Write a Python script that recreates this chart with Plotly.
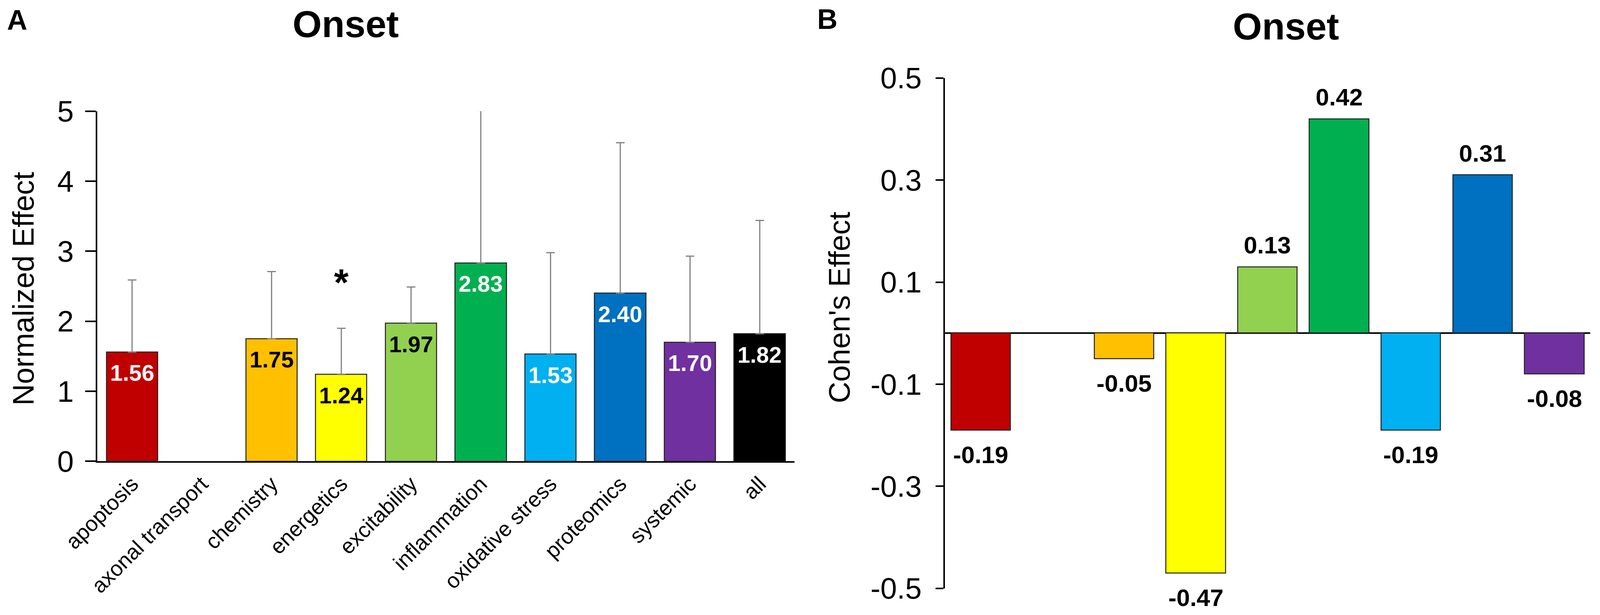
import plotly.graph_objects as go

# ---------------- data ----------------
categories_a = ["apoptosis", "axonal transport", "chemistry", "energetics", "excitability",
                "inflammation", "oxidative stress", "proteomics", "systemic", "all"]
normalized_effect = [1.56, None, 1.75, 1.24, 1.97, 2.83, 1.53, 2.40, 1.70, 1.82]
normalized_error = [1.03, None, 0.96, 0.66, 0.52, 2.18, 1.45, 2.15, 1.23, 1.62]
significant = ["energetics"]

categories_b = ["apoptosis", "axonal transport", "chemistry", "energetics", "excitability",
                "inflammation", "oxidative stress", "proteomics", "systemic"]
cohens_effect = [-0.19, None, -0.05, -0.47, 0.13, 0.42, -0.19, 0.31, -0.08]

yticks_a = [0, 1, 2, 3, 4, 5]
yticks_b = [-0.5, -0.3, -0.1, 0.1, 0.3, 0.5]

# ---------------- style ----------------
palette = {
    "apoptosis": "#C00000", "axonal transport": "#7F7F7F", "chemistry": "#FFC000",
    "energetics": "#FFFF00", "excitability": "#92D050", "inflammation": "#00B050",
    "oxidative stress": "#00B0F0", "proteomics": "#0070C0", "systemic": "#7030A0",
    "all": "#000000",
}
dark_labels = {"chemistry", "energetics", "excitability"}
FONT = "Arial, 'Liberation Sans', sans-serif"
W, H = 4317, 1575  # reference canvas, used to express measured positions as paper fractions

fig = go.Figure()

fig.add_trace(go.Bar(
    x=categories_a, y=normalized_effect,
    marker=dict(color=[palette[c] for c in categories_a], line=dict(color="#222222", width=2.5)),
    width=0.735,
    error_y=dict(type="data", array=normalized_error, arrayminus=[0] * len(categories_a),
                 symmetric=False, color="#808080", thickness=3, width=11),
    xaxis="x", yaxis="y", showlegend=False, hoverinfo="x+y",
))

fig.add_trace(go.Bar(
    x=categories_b, y=cohens_effect,
    marker=dict(color=[palette[c] for c in categories_b], line=dict(color="#222222", width=2.5)),
    width=0.83,
    xaxis="x2", yaxis="y2", showlegend=False, hoverinfo="x+y",
))

annotations = []
# value labels, panel A (inside, near the top of each bar)
for c, v in zip(categories_a, normalized_effect):
    if v is None:
        continue
    annotations.append(dict(
        x=c, y=v, xref="x", yref="y", text=f"{v:.2f}", showarrow=False,
        yanchor="middle", yshift=-53,
        font=dict(family=FONT, size=58, color="#000000" if c in dark_labels else "#FFFFFF", weight="bold"),
    ))
# significance marker
for c in significant:
    i = categories_a.index(c)
    annotations.append(dict(
        x=c, y=normalized_effect[i] + normalized_error[i], xref="x", yref="y", text="*",
        showarrow=False, yanchor="middle", yshift=118,
        font=dict(family=FONT, size=96, color="#000000", weight="bold"),
    ))
# value labels, panel B (outside the bar ends)
for c, v in zip(categories_b, cohens_effect):
    if v is None:
        continue
    annotations.append(dict(
        x=c, y=v, xref="x2", yref="y2", text=f"{v:.2f}", showarrow=False,
        yanchor="middle", yshift=56 if v > 0 else -63,
        font=dict(family=FONT, size=62, color="#000000", weight="bold"),
    ))

# titles, panel letters, axis titles
annotations += [
    dict(x=928 / W, y=1 - 54 / H, xref="paper", yref="paper", text="Onset", showarrow=False,
         xanchor="center", yanchor="middle", font=dict(family=FONT, size=96, color="#000", weight="bold")),
    dict(x=3476 / W, y=1 - 60 / H, xref="paper", yref="paper", text="Onset", showarrow=False,
         xanchor="center", yanchor="middle", font=dict(family=FONT, size=96, color="#000", weight="bold")),
    dict(x=38 / W, y=1 - 43 / H, xref="paper", yref="paper", text="A", showarrow=False,
         xanchor="center", yanchor="middle", font=dict(family=FONT, size=72, color="#000", weight="bold")),
    dict(x=2234 / W, y=1 - 41 / H, xref="paper", yref="paper", text="B", showarrow=False,
         xanchor="center", yanchor="middle", font=dict(family=FONT, size=72, color="#000", weight="bold")),
    dict(x=55 / W, y=1 - 740 / H, xref="paper", yref="paper", text="Normalized Effect", showarrow=False,
         textangle=-90, xanchor="center", yanchor="middle", font=dict(family=FONT, size=76, color="#000")),
    dict(x=2266 / W, y=1 - 788 / H, xref="paper", yref="paper", text="Cohen's Effect", showarrow=False,
         textangle=-90, xanchor="center", yanchor="middle", font=dict(family=FONT, size=76, color="#000")),
]

axis_common = dict(showgrid=False, zeroline=False, linecolor="#000000", linewidth=4, automargin=False)

fig.update_layout(
    autosize=True,
    margin=dict(l=0, r=0, t=0, b=0, pad=0),
    paper_bgcolor="#FFFFFF", plot_bgcolor="rgba(0,0,0,0)",
    font=dict(family=FONT, color="#000000"),
    annotations=annotations,
    bargap=0,
    xaxis=dict(domain=[255 / W, 2145 / W], anchor="y", type="category", range=[-0.5, 9.5],
               showline=True, ticks="", tickangle=-45,
               tickfont=dict(family=FONT, size=55, color="#000"), **axis_common),
    yaxis=dict(domain=[388 / H, 1295 / H], anchor="x", range=[0, 5], tickvals=yticks_a,
               showline=True, ticks="outside", ticklen=27, tickwidth=4, tickcolor="#000",
               tickfont=dict(family=FONT, size=76, color="#000"), ticklabelstandoff=14,
               **axis_common),
    xaxis2=dict(domain=[2552 / W, 4301 / W], anchor="y2", type="category", range=[-0.5, 8.5],
                showline=False, showticklabels=False, ticks="", showgrid=False, zeroline=False,
                automargin=False),
    yaxis2=dict(domain=[59 / H, 1381 / H], anchor="x2", range=[-0.5, 0.5], tickvals=yticks_b,
                ticktext=[f"{t:.1f}" for t in yticks_b],
                showline=True, linecolor="#000", linewidth=4, showgrid=False, automargin=False,
                zeroline=True, zerolinecolor="#000", zerolinewidth=4,
                ticks="outside", ticklen=20, tickwidth=4, tickcolor="#000",
                tickfont=dict(family=FONT, size=76, color="#000"), ticklabelstandoff=20),
)

fig.write_html("out.html", default_width="calc(100vw - 18px)", default_height="calc(100vh - 18px)")
